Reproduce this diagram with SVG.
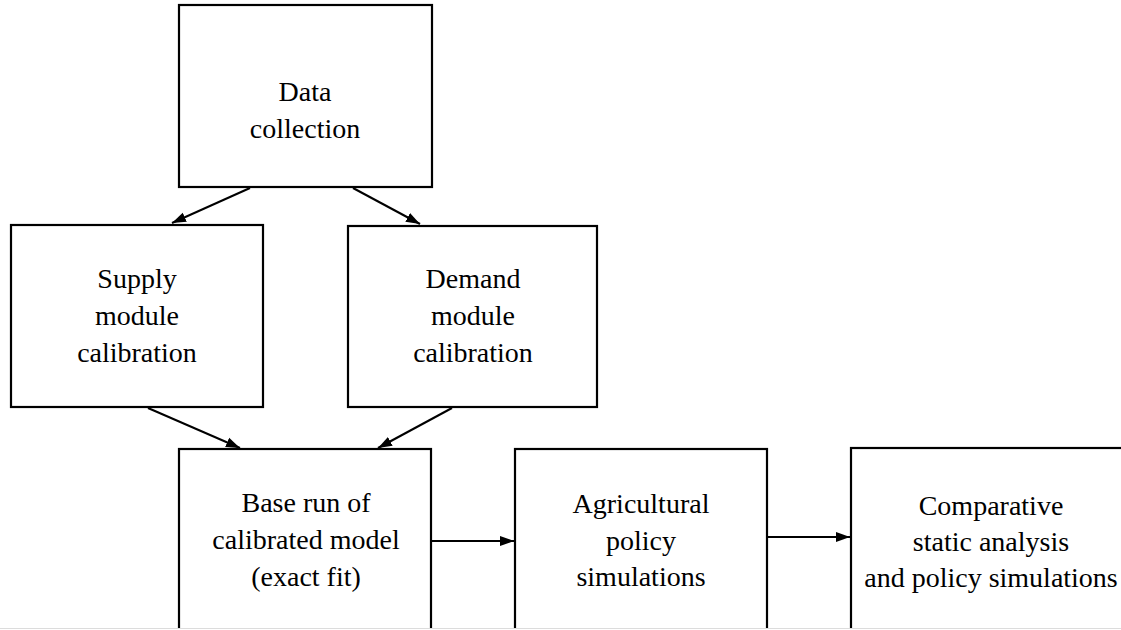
<svg xmlns="http://www.w3.org/2000/svg" width="1121" height="630" viewBox="0 0 1121 630">
<style>
.box{fill:#fff;stroke:#000;stroke-width:2.2}
.t{font-family:"Liberation Serif","Times New Roman",serif;font-size:28px;fill:#000;text-anchor:middle}
.c{stroke:#000;stroke-width:2;fill:none}
</style>
<defs>
<marker id="ah" markerUnits="userSpaceOnUse" markerWidth="15" markerHeight="12" refX="14" refY="6" orient="auto">
<path d="M0,1 L14,6 L0,11 Z" fill="#000"/>
</marker>
</defs>
<rect width="1121" height="630" fill="#fff"/>
<g id="data">
<rect class="box" x="179" y="5" width="253" height="182"/>
<text class="t" x="305" y="101">Data</text>
<text class="t" x="305" y="138">collection</text>
</g>
<g id="supply">
<rect class="box" x="11" y="225" width="252" height="182"/>
<text class="t" x="137" y="288">Supply</text>
<text class="t" x="137" y="325">module</text>
<text class="t" x="137" y="362">calibration</text>
</g>
<g id="demand">
<rect class="box" x="348" y="226" width="249" height="181"/>
<text class="t" x="473" y="288">Demand</text>
<text class="t" x="473" y="325">module</text>
<text class="t" x="473" y="362">calibration</text>
</g>
<g id="base">
<rect class="box" x="179" y="449" width="252" height="200"/>
<text class="t" x="306" y="512">Base run of</text>
<text class="t" x="306" y="549">calibrated model</text>
<text class="t" x="306" y="586">(exact fit)</text>
</g>
<g id="agri">
<rect class="box" x="515" y="449" width="252" height="200"/>
<text class="t" x="641" y="513">Agricultural</text>
<text class="t" x="641" y="550">policy</text>
<text class="t" x="641" y="586">simulations</text>
</g>
<g id="comp">
<rect class="box" x="851" y="448" width="290" height="200"/>
<text class="t" x="991" y="515">Comparative</text>
<text class="t" x="991" y="551">static analysis</text>
<text class="t" x="991" y="587">and policy simulations</text>
</g>
<g id="connectors">
<line class="c" x1="250" y1="188" x2="172" y2="223" marker-end="url(#ah)"/>
<line class="c" x1="353" y1="188" x2="420" y2="224" marker-end="url(#ah)"/>
<line class="c" x1="148" y1="408" x2="240" y2="448" marker-end="url(#ah)"/>
<line class="c" x1="452" y1="408" x2="378" y2="448" marker-end="url(#ah)"/>
<line class="c" x1="432" y1="541" x2="514" y2="541" marker-end="url(#ah)"/>
<line class="c" x1="768" y1="537" x2="850" y2="537" marker-end="url(#ah)"/>
</g>
<rect x="0" y="628" width="1121" height="2" fill="#fff"/>
<line x1="0" y1="628.5" x2="1121" y2="628.5" stroke="#dcdcdc" stroke-width="1"/>
</svg>
